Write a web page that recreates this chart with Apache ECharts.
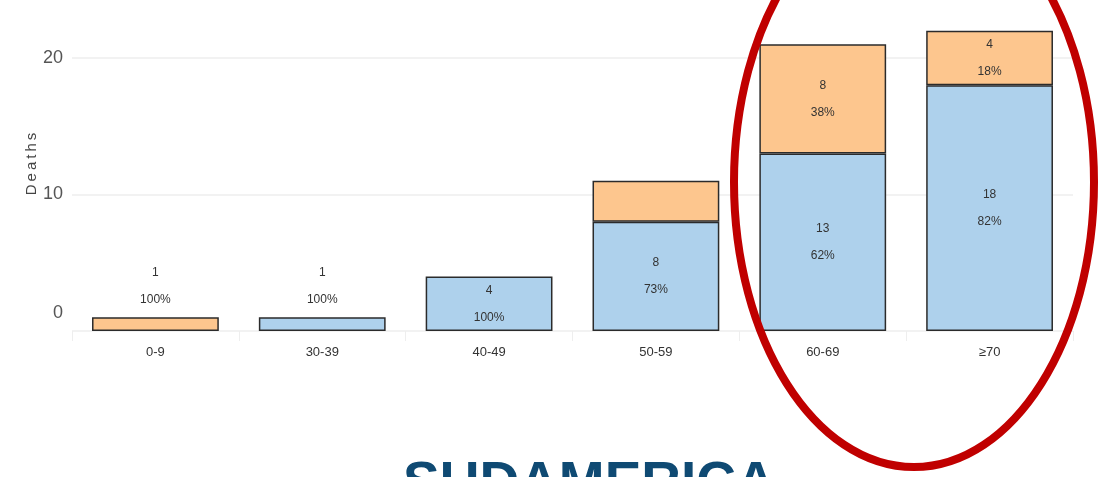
<!DOCTYPE html>
<html>
<head>
<meta charset="utf-8">
<script src="https://cdn.jsdelivr.net/npm/echarts@6/dist/echarts.min.js"></script>
<style>
  html, body { margin: 0; padding: 0; background: #fff; }
  #chart { width: 1109px; height: 477px; }
</style>
</head>
<body>
<div id="chart"></div>
<script>
var categories = ['0-9', '30-39', '40-49', '50-59', '60-69', '\u226570'];
var blueDeaths = [0, 1, 4, 8, 13, 18];
var orangeDeaths = [1, 0, 0, 3, 8, 4];
var yTicks = [0, 10, 20];
var regionTitle = 'SUDAMERICA';

(function() {
  var narrow = '"Liberation Sans Narrow", "Liberation Sans", Arial, sans-serif';
  var totals = categories.map(function(_, i) { return blueDeaths[i] + orangeDeaths[i]; });
  var hideLabel = { '3': true }; // small orange slice of 50-59 is unlabelled

  function labelText(v, i) {
    return v + '\n' + Math.round(v / totals[i] * 100) + '%';
  }
  function buildData(vals, isTop) {
    return vals.map(function(v, i) {
      if (!v) return { value: null };
      var item = { value: v, label: { show: true, position: 'inside', formatter: labelText(v, i) } };
      if (v === totals[i] && v <= 1) item.label.position = 'top';
      if (isTop && hideLabel[i]) item.label.show = false;
      return item;
    });
  }

  var labelStyle = { color: '#333', fontSize: 12, fontFamily: narrow, lineHeight: 27, distance: 4 };
  var barBorder = { borderColor: '#2b2b2b', borderWidth: 1.5 };

  var chart = echarts.init(document.getElementById('chart'), null, { renderer: 'canvas' });
  chart.setOption({
    animation: false,
    grid: { left: 72, right: 36, top: 58, bottom: 146 },
    xAxis: {
      type: 'category', data: categories,
      axisLine: { show: false },
      axisTick: { show: true, length: 10, lineStyle: { color: '#eeeeee' } },
      axisLabel: { color: '#333', fontSize: 13, fontFamily: narrow, margin: 15 }
    },
    yAxis: {
      type: 'value', min: yTicks[0], max: yTicks[yTicks.length - 1], interval: yTicks[1] - yTicks[0],
      axisLine: { show: false }, axisTick: { show: false },
      splitLine: { lineStyle: { color: '#eeeeee', width: 1.5 } },
      axisLabel: {
        color: '#555', fontSize: 18, fontFamily: narrow, margin: 9,
        formatter: function(v) { return v === 0 ? '{z|0}' : String(v); },
        rich: { z: { fontSize: 18, fontFamily: narrow, color: '#555', padding: [0, 0, 36, 0] } }
      }
    },
    series: [
      {
        name: 'blue', type: 'bar', stack: 'deaths', clip: false, barCategoryGap: '24%',
        itemStyle: Object.assign({ color: '#aed1ec' }, barBorder),
        label: labelStyle,
        data: buildData(blueDeaths, false)
      },
      {
        name: 'orange', type: 'bar', stack: 'deaths', clip: false, barCategoryGap: '24%',
        itemStyle: Object.assign({ color: '#fdc68e' }, barBorder),
        label: labelStyle,
        data: buildData(orangeDeaths, true)
      }
    ],
    graphic: [
      {
        type: 'text', x: 32, y: 164, rotation: Math.PI / 2,
        style: { text: 'D\u2009e\u2009a\u2009t\u2009h\u2009s', fill: '#444',
                 font: '15px "Liberation Sans", Arial, sans-serif',
                 align: 'center', verticalAlign: 'middle' }
      },
      {
        type: 'text', x: 403, y: 457,
        style: { text: regionTitle, fill: '#0f4a73', font: 'bold 55px "Liberation Sans", Arial, sans-serif',
                 align: 'left', verticalAlign: 'top' }
      },
      {
        type: 'ellipse', z: 100,
        shape: { cx: 914, cy: 182, rx: 180, ry: 285 },
        style: { fill: 'none', stroke: '#c00000', lineWidth: 8 }
      }
    ]
  });
  window.addEventListener('resize', function() { chart.resize(); });
})();
</script>
</body>
</html>
